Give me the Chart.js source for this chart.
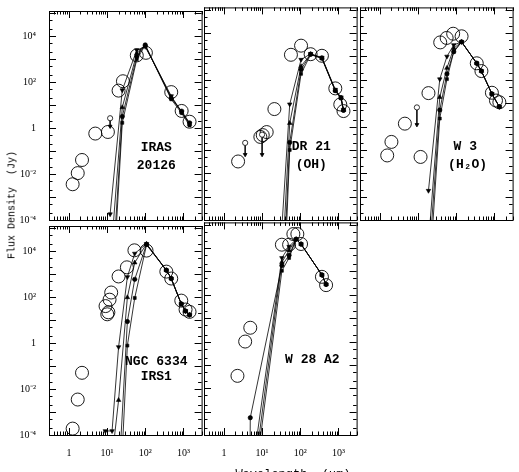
<!DOCTYPE html>
<html>
<head>
<meta charset="utf-8">
<script src="https://cdn.jsdelivr.net/npm/chart.js@4/dist/chart.umd.min.js"></script>
<style>
html,body{margin:0;padding:0;background:#fff;}
#wrap{position:relative;width:519px;height:472px;overflow:hidden;background:#fff;}
#wrap canvas{position:absolute;}
#ylab{position:absolute;left:12px;top:205px;transform:translate(-50%,-50%) rotate(-90deg);font:10px "Liberation Mono";white-space:pre;color:#000;}
#xlab{position:absolute;left:293px;top:468px;transform:translateX(-50%);font:12px "Liberation Mono";white-space:pre;color:#000;}
</style>
</head>
<body>
<div id="wrap">
  <canvas id="p1" width="205" height="250"></canvas>
  <canvas id="p2" width="205" height="250"></canvas>
  <canvas id="p3" width="205" height="250"></canvas>
  <canvas id="p4" width="205" height="250"></canvas>
  <canvas id="p5" width="205" height="250"></canvas>
  <div id="ylab">Flux Density  (Jy)</div>
  <div id="xlab">Wavelength  (μm)</div>
</div>
<script>
// axes (log-log, wavelength in um, flux in Jy)
var xMin=0.3, xMax=3000;
var yMin=1e-4, yMax=125900;
var xTickVals=[1,10,100,1000];
var xTickText=["1","10¹","10²","10³"];
var yTickVals=[1e-4,1e-2,1,1e2,1e4];
var yTickText=["10⁻⁴","10⁻²","1","10²","10⁴"];

// IRAS 20126
var irasObsWave=[1.25,1.7,2.2,4.9,10.5,20,26,60,104,480,900,1450];
var irasObsFlux=[0.0036,0.011,0.041,0.58,0.68,43,110,1470,1900,37,5.6,1.9];
var irasLimWave=[12];
var irasLimFlux=[2.7];
var irasLimTip=[1.2];
var irasModWave=[12,25,60,100,480,900,1450];
var irasMod1=[1.8e-4,45,2500,3500,25,5,1.6];
var irasMod2=[1e-6,8,1800,3800,22,5,1.5];
var irasMod3=[1e-8,3.2,1300,4200,20,5.5,1.7];
var irasMod4=[1e-9,1.7,1000,4000,18,4.5,1.3];

// DR 21 (OH)
var dr21ObsWave=[2.35,9.0,10.4,13.2,21,57,105,187,370,830,1120,1360];
var dr21ObsFlux=[0.032,0.36,0.43,0.58,5.6,1180,2900,1250,1070,43,8.8,4.6];
var dr21LimWave=[3.6,10];
var dr21LimFlux=[0.2,0.45];
var dr21LimTip=[0.063,0.063];
var dr21ModWave=[25,53,105,187,370,830,1170,1360];
var dr21Mod1=[4e-8,9,730,1300,900,38,18,5.3];
var dr21Mod2=[1e-10,1.4,380,1250,850,35,17,5];
var dr21Mod3=[1e-12,0.21,275,1250,850,35,17,5];
var dr21Mod4=[1e-14,0.1,180,1200,820,33,16,4.8];

// W 3 (H2O)
var w3ObsWave=[1.55,2.0,4.5,11.6,18.7,38,56,83,138,345,457,860,1100,1350];
var w3ObsFlux=[0.058,0.22,1.33,0.05,27,4000,6200,9400,7300,510,237,28,13,11];
var w3LimWave=[9.3];
var w3LimFlux=[6.6];
var w3LimTip=[1.2];
var w3ModWave=[18.7,37,57,86,138,345,457,860,1350];
var w3Mod1=[1.8e-3,107,1000,3100,4200,510,237,25,7];
var w3Mod2=[1e-5,18,320,2240,4200,510,237,25,7];
var w3Mod3=[1e-6,5.1,180,1600,4200,510,237,25,7];
var w3Mod4=[1e-7,2.2,107,1600,4200,510,237,25,7];

// NGC 6334 IRS1
var ngcObsWave=[1.25,1.7,2.2,9.1,10.1,10.8,11.6,12.8,20,33,52,108,357,480,880,1140,1450];
var ngcObsFlux=[1.9e-4,3.5e-3,0.051,41,18,22,78,160,800,2000,11000,10700,1300,650,71,29,23];
var ngcLimWave=[];
var ngcLimFlux=[];
var ngcLimTip=[];
var ngcModWave=[9,13.5,20,34,53,108,357,480,880,1140,1450];
var ngcMod1=[1.5e-4,1.5e-4,0.68,760,8000,21000,1500,650,51,25,17];
var ngcMod2=[null,1e-5,3.3e-3,98,3200,21000,1500,650,51,25,17];
var ngcMod3=[null,null,1e-6,8.7,600,20000,1500,650,51,25,17];
var ngcMod4=[null,null,1e-8,0.78,93,19000,1500,650,51,25,17];

// W 28 A2
var w28ObsWave=[2.26,3.6,4.9,33,51,66,84,105,370,476];
var w28ObsFlux=[0.034,1.0,3.9,14000,14000,40000,40000,15000,590,260];
var w28LimWave=[];
var w28LimFlux=[];
var w28LimTip=[];
var w28ModWave=[4.75,4.9,7,33,51,78,105,370,476];
var w28Mod1=[null,null,5e-5,3800,11700,24000,14800,710,280];
var w28Mod2=[null,null,1e-5,2500,8000,24000,14800,710,280];
var w28Mod3=[1e-7,5.5e-4,null,1800,5000,24000,14800,710,280];
var w28Mod4=[null,null,3e-6,1070,3800,24000,14800,710,280];

var modStyle=['triangle','triangle','circle','rect'];
var modRot=[180,0,0,0];
var modRad=[2.6,2.6,2.2,2.1];

// frame, inward ticks on all sides, and the source name
var frame={
  id:'frame',
  afterDraw:function(chart,args,opts){
    var ctx=chart.ctx, a=chart.chartArea, x=chart.scales.x, y=chart.scales.y;
    ctx.save();
    ctx.strokeStyle='#000';
    ctx.lineWidth=1;
    ctx.strokeRect(a.left+0.5,a.top+0.5,a.width,a.height);
    ctx.beginPath();
    for(var d=-1;d<=4;d++){
      for(var m=1;m<=9;m++){
        var v=m*Math.pow(10,d);
        if(v<xMin||v>xMax) continue;
        var px=Math.round(x.getPixelForValue(v))+0.5;
        var len=(m==1)?7:3.5;
        ctx.moveTo(px,a.bottom);ctx.lineTo(px,a.bottom-len);
        ctx.moveTo(px,a.top);ctx.lineTo(px,a.top+len);
      }
    }
    for(var e=-4;e<=5;e++){
      [1,2,5].forEach(function(m){
        var v=m*Math.pow(10,e);
        if(v<yMin||v>yMax) return;
        var py=Math.round(y.getPixelForValue(v))+0.5;
        var len=(m==1)?7:3.5;
        ctx.moveTo(a.left,py);ctx.lineTo(a.left+len,py);
        ctx.moveTo(a.right,py);ctx.lineTo(a.right-len,py);
      });
    }
    ctx.stroke();
    ctx.fillStyle='#000';
    ctx.font='bold 13px "Liberation Mono"';
    ctx.textAlign='center';
    ctx.textBaseline='middle';
    (opts.lines||[]).forEach(function(l){
      ctx.fillText(l.t,a.left+l.fx*a.width,a.top+l.fy*a.height);
    });
    ctx.restore();
  }
};

function pts(w,f){
  return w.map(function(v,i){return {x:v,y:f[i]};});
}

function makePanel(id,left,top,obsW,obsF,limW,limF,limT,modW,mods,text,showX,showY){
  var cv=document.getElementById(id);
  cv.style.left=(left-45)+'px';
  cv.style.top=(top-5)+'px';
  var sets=[];
  mods.forEach(function(f,i){
    sets.push({
      type:'line',showLine:true,data:pts(modW,f),
      borderColor:'#000',borderWidth:0.8,backgroundColor:'#000',
      pointStyle:modStyle[i],rotation:modRot[i],pointRadius:modRad[i],
      pointBorderWidth:0.6,spanGaps:true,tension:0
    });
  });
  limW.forEach(function(w,i){
    sets.push({
      type:'line',showLine:true,data:[{x:w,y:limF[i]},{x:w,y:limT[i]}],
      borderColor:'#000',borderWidth:0.8,
      backgroundColor:['#fff','#000'],pointStyle:['circle','triangle'],
      rotation:[0,180],pointRadius:[2.6,2.2],pointBorderWidth:0.8
    });
  });
  sets.push({
    type:'scatter',data:pts(obsW,obsF),showLine:false,
    pointStyle:'circle',pointRadius:6.5,borderColor:'#000',borderWidth:0.9,
    backgroundColor:'rgba(0,0,0,0)',clip:8
  });
  return new Chart(cv,{
    type:'scatter',
    data:{datasets:sets},
    options:{
      responsive:false,animation:false,events:[],
      layout:{padding:{top:5,right:5,left:0,bottom:0}},
      plugins:{legend:{display:false},tooltip:{enabled:false},frame:{lines:text}},
      scales:{
        x:{
          type:'logarithmic',min:xMin,max:xMax,
          grid:{display:false},border:{display:false},
          afterFit:function(s){s.height=30;},
          afterBuildTicks:function(s){s.ticks=xTickVals.map(function(v){return {value:v};});},
          ticks:{display:showX,autoSkip:false,maxRotation:0,padding:4,color:'#000',
            font:{family:'Liberation Serif',size:10},
            callback:function(v,i){return xTickText[i];}}
        },
        y:{
          type:'logarithmic',min:yMin,max:yMax,
          grid:{display:false},border:{display:false},
          afterFit:function(s){s.width=45;},
          afterBuildTicks:function(s){s.ticks=yTickVals.map(function(v){return {value:v};});},
          ticks:{display:showY,autoSkip:false,padding:5,color:'#000',
            font:{family:'Liberation Serif',size:10},
            callback:function(v,i){return yTickText[i];}}
        }
      }
    },
    plugins:[frame]
  });
}

makePanel('p1',49,5,irasObsWave,irasObsFlux,irasLimWave,irasLimFlux,irasLimTip,
  irasModWave,[irasMod1,irasMod2,irasMod3,irasMod4],
  [{t:'IRAS',fx:0.703,fy:0.654},{t:'20126',fx:0.703,fy:0.738}],false,true);
makePanel('p2',204,5,dr21ObsWave,dr21ObsFlux,dr21LimWave,dr21LimFlux,dr21LimTip,
  dr21ModWave,[dr21Mod1,dr21Mod2,dr21Mod3,dr21Mod4],
  [{t:'DR 21',fx:0.703,fy:0.654},{t:'(OH)',fx:0.703,fy:0.738}],false,false);
makePanel('p3',360,5,w3ObsWave,w3ObsFlux,w3LimWave,w3LimFlux,w3LimTip,
  w3ModWave,[w3Mod1,w3Mod2,w3Mod3,w3Mod4],
  [{t:'W 3',fx:0.69,fy:0.654},{t:'(H₂O)',fx:0.705,fy:0.738}],false,false);
makePanel('p4',49,220,ngcObsWave,ngcObsFlux,ngcLimWave,ngcLimFlux,ngcLimTip,
  ngcModWave,[ngcMod1,ngcMod2,ngcMod3,ngcMod4],
  [{t:'NGC 6334',fx:0.703,fy:0.647},{t:'IRS1',fx:0.703,fy:0.722}],true,true);
makePanel('p5',204,220,w28ObsWave,w28ObsFlux,w28LimWave,w28LimFlux,w28LimTip,
  w28ModWave,[w28Mod1,w28Mod2,w28Mod3,w28Mod4],
  [{t:'W 28 A2',fx:0.71,fy:0.647}],true,false);
</script>
</body>
</html>
